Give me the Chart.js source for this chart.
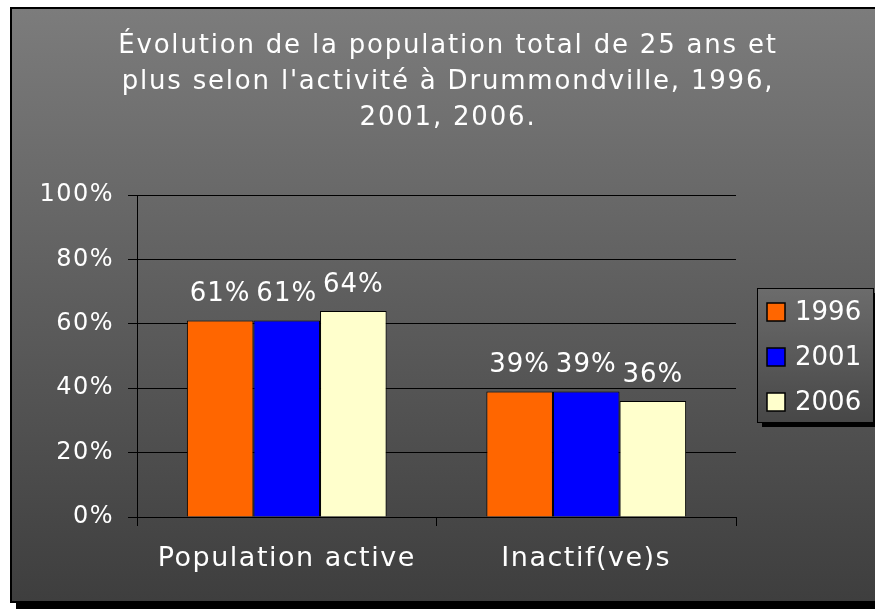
<!DOCTYPE html>
<html>
<head>
<meta charset="utf-8">
<script src="https://cdn.jsdelivr.net/npm/chart.js@4.4.0/dist/chart.umd.min.js"></script>
<style>
  body { margin: 0; background: #fff; }
  canvas { display: block; }
</style>
</head>
<body>
<canvas id="chart" width="875" height="611"></canvas>
<script>
const categories = ["Population active", "Inactif(ve)s"];
const years = ["1996", "2001", "2006"];
const values1996 = [61, 39];
const values2001 = [61, 39];
const values2006 = [64, 36];
const yTicks = [0, 20, 40, 60, 80, 100];
const titleLines = [
  "Évolution de la population total de 25 ans et",
  "plus selon l'activité à Drummondville, 1996,",
  "2001, 2006."
];
const colors = ["#FF6600", "#0000FF", "#FFFFCC"];
const FONT = "'DejaVu Sans', sans-serif";

// background frame with drop shadow, plus title
const framePlugin = {
  id: "frame",
  beforeDraw(chart) {
    const ctx = chart.ctx;
    ctx.save();
    ctx.fillStyle = "#fff";
    ctx.fillRect(0, 0, chart.width, chart.height);
    ctx.fillStyle = "#000";
    ctx.fillRect(16, 13, chart.width, 596);
    const g = ctx.createLinearGradient(0, 8, 0, 602);
    g.addColorStop(0, "#7c7c7c");
    g.addColorStop(1, "#3e3e3e");
    ctx.fillStyle = g;
    ctx.fillRect(11, 8, chart.width, 594);
    ctx.strokeStyle = "#000";
    ctx.lineWidth = 2;
    ctx.strokeRect(11, 8, chart.width + 10, 594);

    ctx.fillStyle = "#fff";
    ctx.font = "26px " + FONT;
    ctx.letterSpacing = "1.8px";
    ctx.textAlign = "center";
    ctx.textBaseline = "middle";
    titleLines.forEach((line, i) => ctx.fillText(line, 448, 46 + i * 36));
    ctx.restore();
    // wider text for the axis labels (Century Gothic look)
    ctx.letterSpacing = "1.5px";
  },
  afterDraw(chart) {
    chart.ctx.letterSpacing = "0px";
  }
};

// value labels above bars
const valueLabels = {
  id: "valueLabels",
  afterDatasetsDraw(chart) {
    const ctx = chart.ctx;
    ctx.save();
    ctx.fillStyle = "#fff";
    ctx.font = "26px " + FONT;
    ctx.letterSpacing = "1px";
    ctx.textAlign = "center";
    ctx.textBaseline = "middle";
    chart.data.datasets.forEach((ds, i) => {
      chart.getDatasetMeta(i).data.forEach((bar, j) => {
        ctx.fillText(ds.data[j] + "%", bar.x, bar.y - 26);
      });
    });
    ctx.restore();
  }
};

// boxed legend with shadow
const boxLegend = {
  id: "boxLegend",
  afterDraw(chart) {
    const ctx = chart.ctx;
    const x = 757, y = 288, w = 116, h = 134;
    ctx.save();
    ctx.letterSpacing = "0px";
    ctx.fillStyle = "#000";
    ctx.fillRect(x + 5, y + 5, w, h);
    const g = ctx.createLinearGradient(0, y, 0, y + h);
    g.addColorStop(0, "#6c6c6c");
    g.addColorStop(1, "#474747");
    ctx.fillStyle = g;
    ctx.fillRect(x, y, w, h);
    ctx.strokeStyle = "#000";
    ctx.lineWidth = 1;
    ctx.strokeRect(x + 0.5, y + 0.5, w, h);
    ctx.font = "26px " + FONT;
    ctx.textBaseline = "middle";
    chart.data.datasets.forEach((ds, i) => {
      const cy = 312 + i * 45;
      ctx.fillStyle = ds.backgroundColor;
      ctx.fillRect(767, cy - 9, 18, 18);
      ctx.strokeStyle = "#000";
      ctx.lineWidth = 1.5;
      ctx.strokeRect(767, cy - 9, 18, 18);
      ctx.fillStyle = "#fff";
      ctx.fillText(ds.label, 795, cy + 1);
    });
    ctx.restore();
  }
};

new Chart(document.getElementById("chart"), {
  type: "bar",
  data: {
    labels: categories,
    datasets: [values1996, values2001, values2006].map((vals, i) => ({
      label: years[i],
      data: vals,
      backgroundColor: colors[i],
      borderColor: "#000",
      borderWidth: 1,
      categoryPercentage: 0.667,
      barPercentage: 1
    }))
  },
  options: {
    responsive: false,
    animation: false,
    layout: { padding: { top: 195, right: 139, bottom: 0, left: 0 } },
    plugins: {
      legend: { display: false },
      tooltip: { enabled: false },
      title: { display: false }
    },
    scales: {
      x: {
        afterFit: (s) => { s.height = 94; },
        grid: { drawOnChartArea: false, color: "#000", tickLength: 9 },
        border: { color: "#000", width: 1 },
        ticks: { color: "#fff", font: { family: FONT, size: 27 }, padding: 17 }
      },
      y: {
        min: 0,
        max: 100,
        afterFit: (s) => { s.width = 137; },
        afterBuildTicks: (s) => { s.ticks = yTicks.map((v) => ({ value: v })); },
        grid: { color: "#000", tickLength: 9 },
        border: { color: "#000", width: 1 },
        ticks: {
          color: "#fff",
          font: { family: FONT, size: 24 },
          padding: 14,
          callback: (v) => v + "%"
        }
      }
    }
  },
  plugins: [framePlugin, valueLabels, boxLegend]
});
</script>
</body>
</html>
